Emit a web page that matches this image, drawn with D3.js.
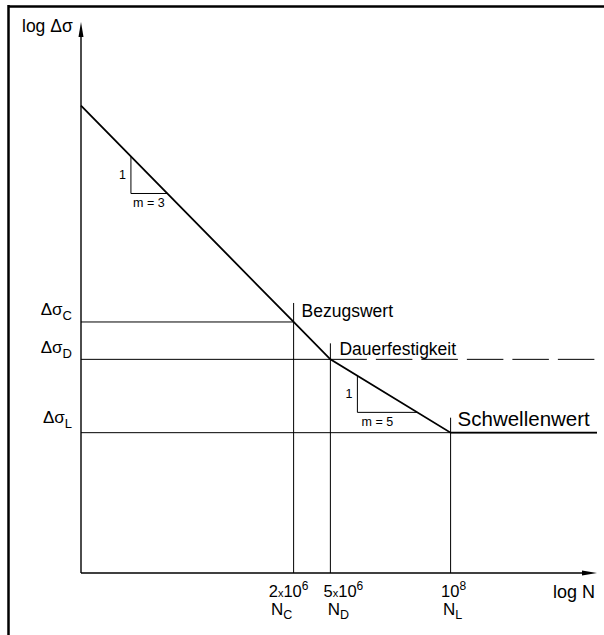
<!DOCTYPE html>
<html>
<head>
<meta charset="utf-8">
<script src="https://d3js.org/d3.v7.min.js"></script>
<style>
  body { margin: 0; background: #fff; }
  text { font-family: Arial, "Liberation Sans", sans-serif; fill: #000; }
</style>
</head>
<body>
<svg width="604" height="635"></svg>
<script>
// S-N curve (Wöhlerlinie), log-log
var curveN = [1e4, 2e6, 5e6, 1e8, 3.84e9];
var curveS = [585, 100, 73.7, 40.5, 40.5];

// characteristic points C, D, L
var levelNames = ["C", "D", "L"];
var levelN = [2e6, 5e6, 1e8];
var levelS = [100, 73.7, 40.5];
var levelTexts = ["Bezugswert", "Dauerfestigkeit", "Schwellenwert"];
var tickMant = ["2", "5", ""];
var tickExp = ["6", "6", "8"];

// slope triangles
var slopeM = [3, 5];
var slopeN1 = [3.47e4, 9.8e6];
var slopeN2 = [8.6e4, 4.36e7];

var svg = d3.select("svg");

var xScale = d3.scaleLog().domain([1e4, 3.84e9]).range([81, 597]);
var yScale = d3.scaleLog().domain([12.88, 1158]).range([573, 22]);

// sigma on the curve for a given N (log-log piecewise)
function sigmaAt(n) {
  for (var i = 0; i < curveN.length - 1; i++) {
    if (n <= curveN[i + 1]) {
      var t = (Math.log(n) - Math.log(curveN[i])) / (Math.log(curveN[i + 1]) - Math.log(curveN[i]));
      return Math.exp(Math.log(curveS[i]) + t * (Math.log(curveS[i + 1]) - Math.log(curveS[i])));
    }
  }
  return curveS[curveS.length - 1];
}

// frame
svg.append("line").attr("x1", 8).attr("x2", 604).attr("y1", 6.5).attr("y2", 6.5)
  .attr("stroke", "#000").attr("stroke-width", 2.5);
svg.append("line").attr("x1", 8.5).attr("x2", 8.5).attr("y1", 5).attr("y2", 635)
  .attr("stroke", "#000").attr("stroke-width", 2.5);

var x0 = xScale.range()[0], x1 = xScale.range()[1];
var y0 = yScale.range()[0], y1 = yScale.range()[1];

// axes
svg.append("line").attr("x1", x0).attr("x2", x1 - 8).attr("y1", y0).attr("y2", y0)
  .attr("stroke", "#000").attr("stroke-width", 1.4);
svg.append("line").attr("x1", x0).attr("x2", x0).attr("y1", y0).attr("y2", y1 + 8)
  .attr("stroke", "#000").attr("stroke-width", 1.4);
svg.append("path")
  .attr("d", "M" + x1 + "," + y0 + "L" + (x1 - 15) + "," + (y0 - 2.5) + "L" + (x1 - 15) + "," + (y0 + 2.5) + "Z")
  .attr("fill", "#000");
svg.append("path")
  .attr("d", "M" + x0 + "," + y1 + "L" + (x0 - 2.5) + "," + (y1 + 15) + "L" + (x0 + 2.5) + "," + (y1 + 15) + "Z")
  .attr("fill", "#000");

svg.append("text").attr("x", 22).attr("y", 32).attr("font-size", 17.5).text("log \u0394\u03c3");
svg.append("text").attr("x", 595).attr("y", 598).attr("text-anchor", "end").attr("font-size", 18).text("log N");

// horizontal level lines
var vExt = [19, 16, 15];
levelS.forEach(function(s, i) {
  var y = yScale(s);
  var xe = xScale(levelN[i]);
  if (i == 0) {
    svg.append("line").attr("x1", x0).attr("x2", xe).attr("y1", y).attr("y2", y)
      .attr("stroke", "#000").attr("stroke-width", 1);
  } else if (i == 1) {
    svg.append("line").attr("x1", x0).attr("x2", xe).attr("y1", y).attr("y2", y)
      .attr("stroke", "#000").attr("stroke-width", 1);
    svg.append("line").attr("x1", xe).attr("x2", x1).attr("y1", y).attr("y2", y)
      .attr("stroke", "#000").attr("stroke-width", 1).attr("stroke-dasharray", "36.5,9");
  } else {
    svg.append("line").attr("x1", x0).attr("x2", x1).attr("y1", y).attr("y2", y)
      .attr("stroke", "#000").attr("stroke-width", 1);
  }
  // vertical lines
  svg.append("line").attr("x1", xe).attr("x2", xe).attr("y1", y - vExt[i]).attr("y2", y0)
    .attr("stroke", "#000").attr("stroke-width", 1);
});

// curve
var line = d3.line().x(function(d, i) { return xScale(curveN[i]); })
  .y(function(d) { return yScale(d); });
svg.append("path").datum(curveS).attr("d", line)
  .attr("fill", "none").attr("stroke", "#000").attr("stroke-width", 1.8);

// level labels on the curve
var lblDx = [8, 9, 7], lblDy = [-5, -4, -7], lblSize = [17.5, 17.5, 20.5];
levelTexts.forEach(function(t, i) {
  svg.append("text").attr("x", xScale(levelN[i]) + lblDx[i]).attr("y", yScale(levelS[i]) + lblDy[i])
    .attr("font-size", lblSize[i]).text(t);
});

// left labels
var leftDy = [-7, -6, -10];
levelNames.forEach(function(nm, i) {
  var t = svg.append("text").attr("x", 72).attr("y", yScale(levelS[i]) + leftDy[i])
    .attr("text-anchor", "end").attr("font-size", 17);
  t.append("tspan").text("\u0394\u03c3");
  t.append("tspan").attr("font-size", 13).attr("dy", 5).text(nm);
});

// bottom labels
var tickDx = [-5, 13, 3], nDx = [-12, 8, 2];
levelN.forEach(function(n, i) {
  var t = svg.append("text").attr("x", xScale(n) + tickDx[i]).attr("y", 597)
    .attr("text-anchor", "middle").attr("font-size", 16.5);
  if (tickMant[i] != "") {
    t.append("tspan").text(tickMant[i]);
    t.append("tspan").attr("font-size", 11).text("x");
  }
  t.append("tspan").text("10");
  t.append("tspan").attr("font-size", 12).attr("dy", -7).text(tickExp[i]);
  var u = svg.append("text").attr("x", xScale(n) + nDx[i]).attr("y", 615)
    .attr("text-anchor", "middle").attr("font-size", 17);
  u.append("tspan").text("N");
  u.append("tspan").attr("font-size", 12.5).attr("dy", 4).text(levelNames[i]);
});

// slope triangles
slopeM.forEach(function(m, i) {
  var xa = xScale(slopeN1[i]), xb = xScale(slopeN2[i]);
  var ya = yScale(sigmaAt(slopeN1[i])), yb = yScale(sigmaAt(slopeN2[i]));
  svg.append("path").attr("d", "M" + xa + "," + ya + "L" + xa + "," + yb + "L" + xb + "," + yb)
    .attr("fill", "none").attr("stroke", "#000").attr("stroke-width", 1);
  svg.append("text").attr("x", xa - 5).attr("y", (ya + yb) / 2 + 4)
    .attr("text-anchor", "end").attr("font-size", 12.5).text("1");
  svg.append("text").attr("x", xa + 18 + i * 2).attr("y", yb + 14)
    .attr("text-anchor", "middle").attr("font-size", 12.5).text("m = " + m);
});
</script>
</body>
</html>
